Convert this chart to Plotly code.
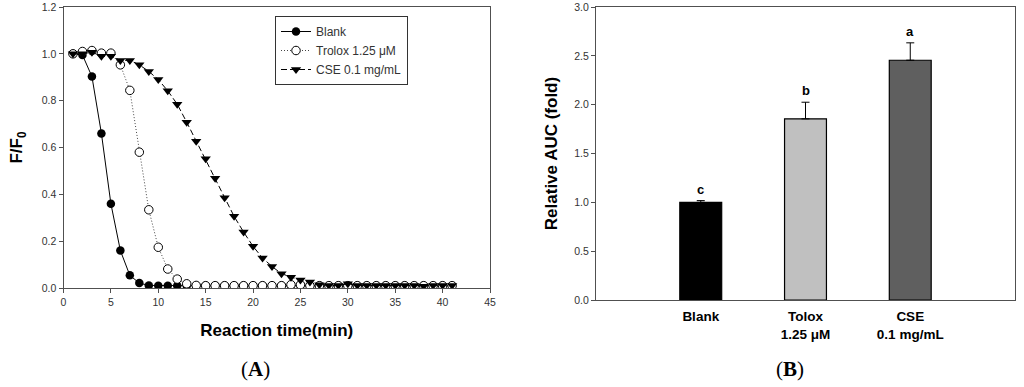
import plotly.graph_objects as go

# ---------------- Data: panel A (kinetic curves) ----------------
time_min = list(range(1, 42))
blank_ff0 = [1.0, 0.995, 0.903, 0.66, 0.36, 0.16, 0.054, 0.021, 0.011, 0.01,
             0.01, 0.01, 0.01, 0.01, 0.01, 0.01, 0.01, 0.01, 0.01, 0.01,
             0.01, 0.01, 0.01, 0.01, 0.01, 0.01, 0.01, 0.01, 0.01, 0.01,
             0.01, 0.01, 0.01, 0.01, 0.01, 0.01, 0.01, 0.01, 0.01, 0.01, 0.01]
trolox_ff0 = [1.0, 1.01, 1.014, 1.003, 1.003, 0.953, 0.844, 0.58, 0.334, 0.174,
              0.081, 0.038, 0.018, 0.011, 0.01, 0.01, 0.01, 0.01, 0.01, 0.01,
              0.01, 0.01, 0.01, 0.014, 0.014, 0.01, 0.01, 0.01, 0.01, 0.01,
              0.01, 0.01, 0.01, 0.01, 0.01, 0.01, 0.01, 0.01, 0.01, 0.01, 0.01]
cse_ff0 = [1.0, 1.0, 1.007, 0.99, 0.99, 0.972, 0.972, 0.953, 0.925, 0.89,
           0.842, 0.785, 0.708, 0.627, 0.552, 0.469, 0.385, 0.306, 0.239, 0.178,
           0.128, 0.092, 0.061, 0.046, 0.034, 0.026, 0.014, 0.011, 0.011, 0.018,
           0.011, 0.011, 0.011, 0.011, 0.011, 0.011, 0.011, 0.008, 0.011, 0.011, 0.011]
series_names = ["Blank", "Trolox 1.25 \u03bcM", "CSE 0.1 mg/mL"]

# ---------------- Data: panel B (relative AUC) ----------------
categories = ["Blank", "Tolox 1.25 \u03bcM", "CSE 0.1 mg/mL"]
category_labels = ["<b>Blank</b>", "<b>Tolox</b><br><b>1.25 \u03bcM</b>", "<b>CSE</b><br><b>0.1 mg/mL</b>"]
auc_values = [1.0, 1.855, 2.455]
auc_errors = [0.018, 0.17, 0.178]
sig_letters = ["c", "b", "a"]
bar_colors = ["#000000", "#c0c0c0", "#5f5f5f"]

FONT = "Arial, Liberation Sans, sans-serif"
AXC = "#505050"

fig = go.Figure()

fig.add_trace(go.Scatter(
    x=time_min, y=blank_ff0, name=series_names[0], mode="lines+markers",
    line=dict(color="black", width=1, dash="solid"),
    marker=dict(symbol="circle", size=8.5, color="black"),
    xaxis="x", yaxis="y"))
fig.add_trace(go.Scatter(
    x=time_min, y=trolox_ff0, name=series_names[1], mode="lines+markers",
    line=dict(color="#444444", width=1, dash="1px,2px"),
    marker=dict(symbol="circle", size=8.5, color="white", line=dict(color="black", width=1)),
    xaxis="x", yaxis="y"))
fig.add_trace(go.Scatter(
    x=time_min, y=cse_ff0, name=series_names[2], mode="lines+markers",
    line=dict(color="black", width=1, dash="6px,3px"),
    marker=dict(symbol="triangle-down", size=9, color="black"),
    xaxis="x", yaxis="y"))

fig.add_trace(go.Bar(
    x=categories, y=auc_values, width=0.4,
    marker=dict(color=bar_colors, line=dict(color="black", width=1.2)),
    error_y=dict(type="data", array=auc_errors, arrayminus=[0] * len(auc_errors),
                 symmetric=False, color="black", thickness=1, width=4),
    showlegend=False, xaxis="x2", yaxis="y2"))

for cat, v, e, letter in zip(categories, auc_values, auc_errors, sig_letters):
    fig.add_annotation(x=cat, y=v + e, xref="x2", yref="y2", text="<b>%s</b>" % letter,
                       showarrow=False, yanchor="bottom", yshift=2,
                       font=dict(family=FONT, size=13, color="black"))

fig.add_annotation(x=255 / 1024, y=1 - 369 / 387, xref="paper", yref="paper",
                   text="(<b>A</b>)", showarrow=False, yanchor="middle", xanchor="center",
                   font=dict(family="Liberation Serif, Times New Roman, serif", size=21, color="black"))
fig.add_annotation(x=790 / 1024, y=1 - 369 / 387, xref="paper", yref="paper",
                   text="(<b>B</b>)", showarrow=False, yanchor="middle", xanchor="center",
                   font=dict(family="Liberation Serif, Times New Roman, serif", size=21, color="black"))

axis_common = dict(showline=True, linecolor=AXC, linewidth=1, mirror=True,
                   showgrid=False, zeroline=False, automargin=False,
                   tickfont=dict(family=FONT, size=10.5, color="#333333"))

fig.update_layout(
    template="none",
    width=1024, height=387,
    margin=dict(l=0, r=0, t=0, b=0),
    paper_bgcolor="white", plot_bgcolor="white",
    font=dict(family=FONT, color="black"),
    xaxis=dict(domain=[63.5 / 1024, 490 / 1024], range=[0, 45], dtick=5,
               ticks="outside", ticklen=4, tickcolor=AXC, anchor="y",
               title=dict(text="<b>Reaction time(min)</b>", standoff=17,
                          font=dict(family=FONT, size=17, color="black")),
               **axis_common),
    yaxis=dict(domain=[1 - 288 / 387, 1 - 7 / 387], range=[0, 1.2], dtick=0.2,
               tickformat=".1f", ticks="outside", ticklen=4, tickcolor=AXC, anchor="x",
               title=dict(text="<b>F/F<sub>0</sub></b>", standoff=14,
                          font=dict(family=FONT, size=17, color="black")),
               **axis_common),
    xaxis2=dict(domain=[596 / 1024, 1015 / 1024], range=[-1, 3], type="category",
                tickvals=categories, ticktext=category_labels, ticks="", anchor="y2",
                ticklabelstandoff=4,
                **{**axis_common, "tickfont": dict(family=FONT, size=13.5, color="black")}),
    yaxis2=dict(domain=[1 - 300 / 387, 1 - 7 / 387], range=[0, 3], dtick=0.5,
                tickformat=".1f", ticks="outside", ticklen=4, tickcolor=AXC, anchor="x2",
                title=dict(text="<b>Relative AUC (fold)</b>", standoff=12,
                           font=dict(family=FONT, size=17, color="black")),
                **axis_common),
    legend=dict(x=275 / 1024, y=1 - 16 / 387, xanchor="left", yanchor="top",
                bgcolor="white", bordercolor="#333333", borderwidth=1,
                font=dict(family=FONT, size=12, color="#333333"),
                tracegroupgap=0),
)

fig.write_html("out.html", config={"displayModeBar": False},
               post_script="document.body.style.margin='0';document.body.style.overflow='hidden';")
